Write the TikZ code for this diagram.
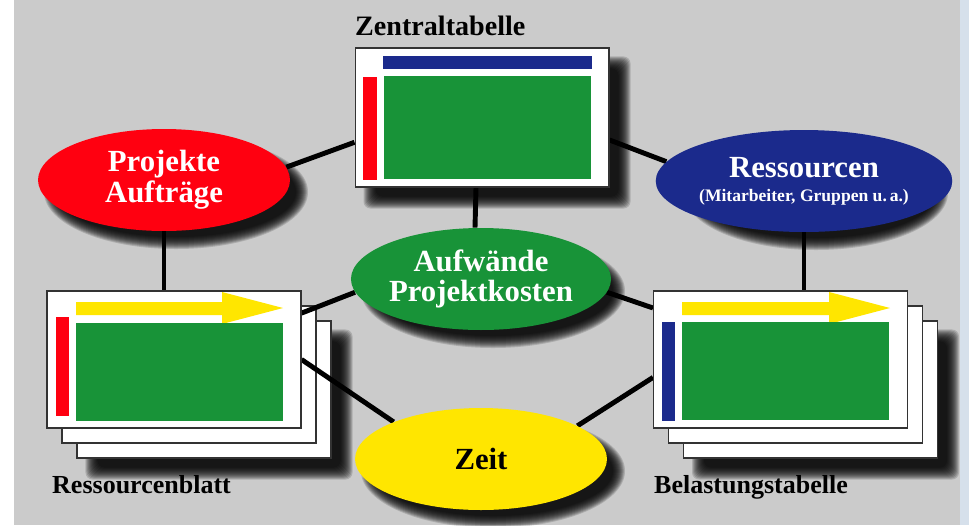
\documentclass[tikz,border=0pt]{standalone}
\usepackage{fontspec}
\setmainfont{Liberation Serif}
\usetikzlibrary{shapes.geometric,calc}

\definecolor{bggray}{RGB}{203,203,203}
\definecolor{stripblue}{RGB}{214,224,235}
\definecolor{ored}{RGB}{255,0,16}
\definecolor{oblue}{RGB}{27,42,140}
\definecolor{ogreen}{RGB}{24,147,56}
\definecolor{oyellow}{RGB}{255,230,0}

\pgfdeclarelayer{bg}
\pgfdeclarelayer{shade}
\pgfdeclarelayer{back}
\pgfdeclarelayer{wires}
\pgfsetlayers{bg,shade,back,wires,main}

\tikzset{
  blob/.style={ellipse, minimum width=5.04cm, minimum height=2.04cm,
      inner sep=0pt, align=center,
      font=\bfseries\fontsize{17.5}{17.5}\selectfont},
  sheet/.style={draw=black!80, line width=0.6pt, fill=white,
      minimum width=5.08cm, minimum height=2.74cm, inner sep=0pt},
  wire/.style={line width=2.8pt},
  shadelayer/.style={black, opacity=0.15},
  caption/.style={anchor=base west, font=\bfseries\fontsize{14.8}{14.8}\selectfont},
}

% soft shadow behind a box: #1 = node name
\newcommand{\rectshade}[1]{%
  \foreach \r in {-6,...,6}
    \fill[shadelayer,rounded corners=4pt]
      ($(#1.north west)+(15-\r,15-\r)$) rectangle ($(#1.south east)+(15+\r,15+\r)$);}
% soft shadow behind an ellipse: #1 = node name
\newcommand{\blobshade}[1]{%
  \foreach \r in {-6,...,6}
    \fill[shadelayer] ($(#1.center)+(12,12)$) ellipse ({126+\r} and {51+\r});}

\begin{document}
\begin{tikzpicture}[x=0.02cm,y=-0.02cm]
\useasboundingbox (0,0) rectangle (969,525);

\begin{pgfonlayer}{bg}
\fill[white] (0,0) rectangle (969,525);
\fill[bggray] (14,0) rectangle (960,525);
\fill[stripblue] (960,0) rectangle (969,525);
\end{pgfonlayer}

% stacked sheets behind
\begin{pgfonlayer}{back}
\node[sheet] (blatt3) at (204,389.5) {};
\node[sheet] (blatt2) at (189,374.5) {};
\node[sheet] (belast3) at (810.5,389.5) {};
\node[sheet] (belast2) at (795.5,374.5) {};
\end{pgfonlayer}

% tables
\node[sheet,minimum height=2.78cm] (zt) at (482,117.5) {};
\node[sheet] (blatt) at (174,359.5) {};
\node[sheet] (belast) at (780.5,359.5) {};

% Zentraltabelle
\fill[oblue] (383,56) rectangle (592,69);
\fill[ored] (363,77) rectangle (377,180);
\fill[ogreen] (384,76) rectangle (591,179);

% Ressourcenblatt
\fill[oyellow] (76,302) -- (222,302) -- (222,292) -- (283,308) -- (222,324) -- (222,315) -- (76,315) -- cycle;
\fill[ored] (56,317) rectangle (69,416);
\fill[ogreen] (76,323) rectangle (283,421);

% Belastungstabelle
\fill[oyellow] (682,302) -- (829,302) -- (829,292) -- (890,308) -- (829,324) -- (829,315) -- (682,315) -- cycle;
\fill[oblue] (662,322) rectangle (675,421);
\fill[ogreen] (682,322) rectangle (889,420);

% ellipses
\node[blob,fill=ored,text=white] (proj) at (164,180) {Projekte\\Aufträge};
\node[blob,fill=oblue,text=white] (ress) at (804,181)
  {Ressourcen\\[-4pt]{\fontsize{10}{10}\selectfont (Mitarbeiter, Gruppen u.\,a.)}};
\node[blob,fill=ogreen,text=white] (aufw) at (481,279) {Aufwände\\Projektkosten};
\node[blob,fill=oyellow,text=black] (zeit) at (481,459) {Zeit};

% captions
\node[caption,font=\bfseries\fontsize{16}{16}\selectfont] (ztlabel) at (349,35) {Zentraltabelle};
\node[caption] (blattlabel) at (46,493) {Ressourcenblatt};
\node[caption] (belastlabel) at (648,493) {Belastungstabelle};

\begin{pgfonlayer}{shade}
\rectshade{zt}
\rectshade{blatt3}
\rectshade{belast3}
\blobshade{proj}
\blobshade{ress}
\blobshade{aufw}
\blobshade{zeit}
\end{pgfonlayer}

\begin{pgfonlayer}{wires}
\draw[wire] (proj.6) -- (zt.191);
\draw[wire] (zt.350) -- (ress.172);
\draw[wire] ($(zt.south)+(-6,0)$) -- ($(aufw.north)+(-6,0)$);
\draw[wire] (proj) -- (proj |- blatt.north);
\draw[wire] (ress) -- (ress |- belast.north);
\draw[wire] (aufw.186) -- (blatt.20);
\draw[wire] (aufw.354) -- (belast.158);
\draw[wire] (blatt.east) -- (zeit.157);
\draw[wire] (belast.188) -- (zeit.19);
\end{pgfonlayer}
\end{tikzpicture}
\end{document}
